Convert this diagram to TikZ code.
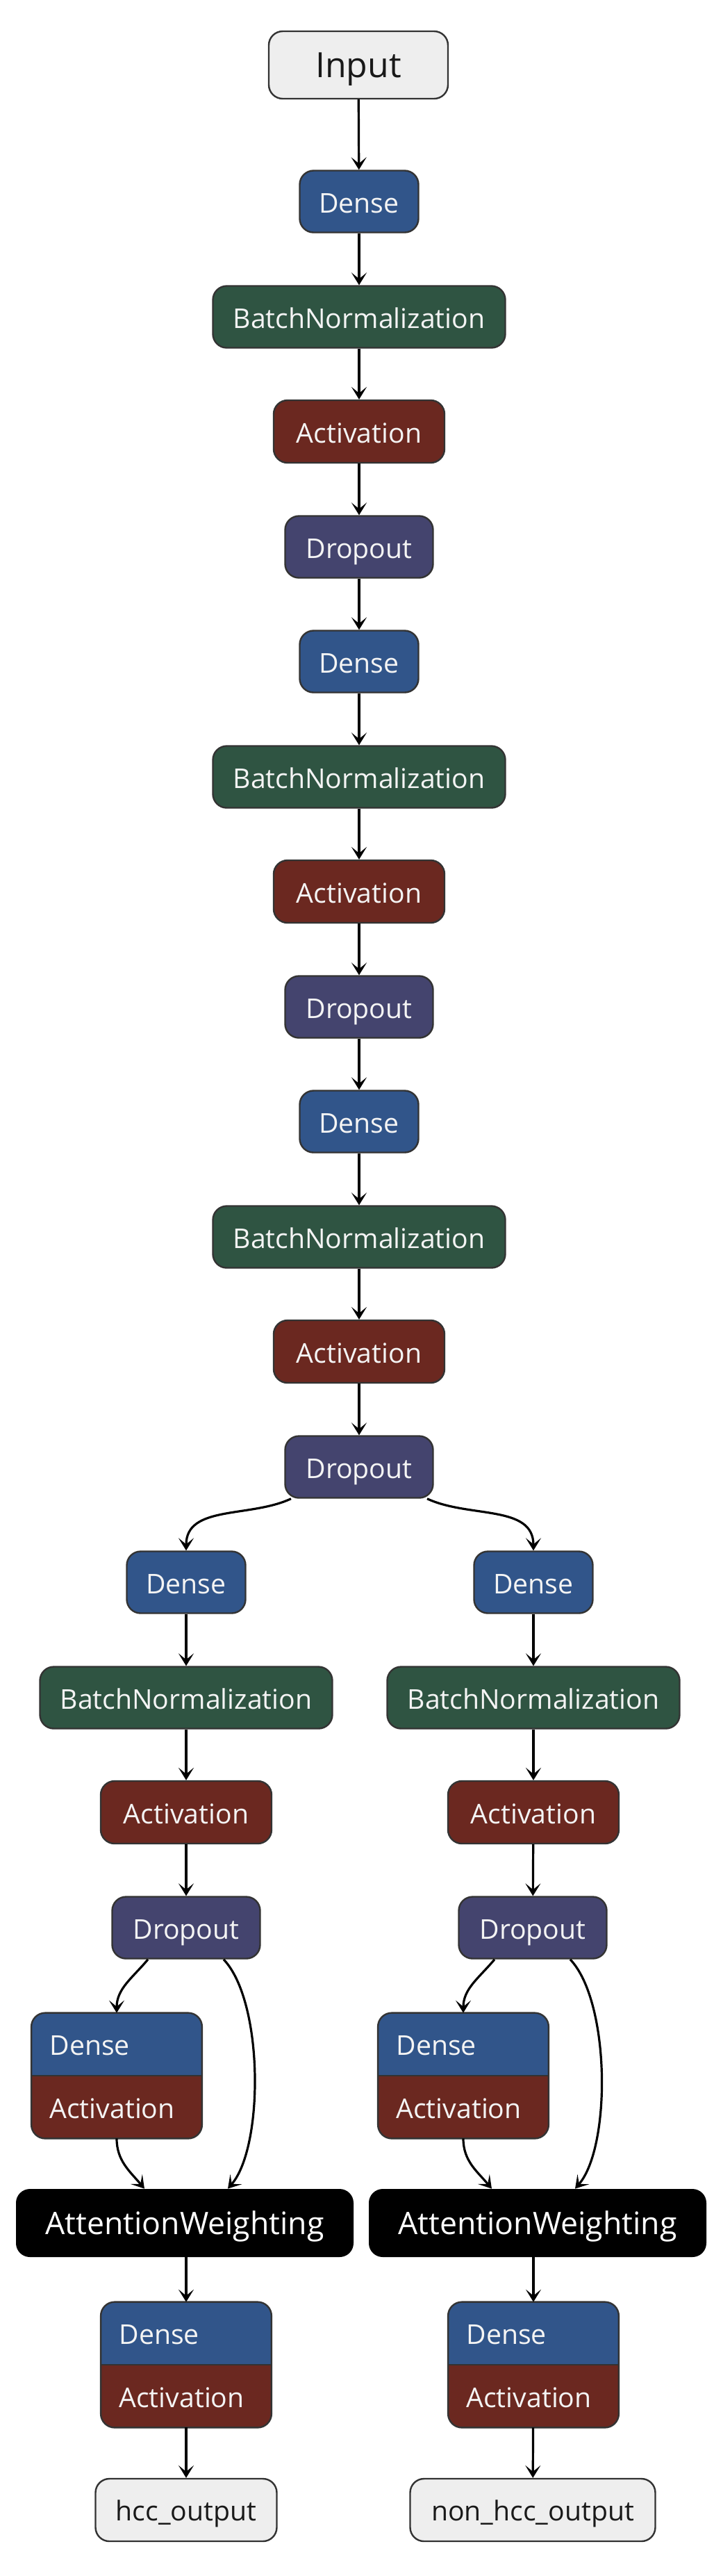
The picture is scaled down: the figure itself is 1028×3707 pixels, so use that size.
\documentclass[tikz,border=0pt]{standalone}
\usepackage{fontspec}
\setmainfont{Open Sans}
\usetikzlibrary{positioning, arrows.meta}
\definecolor{densecol}{HTML}{31558A}
\definecolor{bncol}{HTML}{2F5442}
\definecolor{actcol}{HTML}{6B2820}
\definecolor{dropcol}{HTML}{44446E}
\definecolor{iocol}{HTML}{EEEEEE}
\definecolor{edgecol}{HTML}{333333}
\definecolor{txtcol}{HTML}{F4F4F4}
\tikzset{
    % Layer styles
    layerbox/.style={rectangle, draw=edgecol, line width=1.2pt, rounded corners=10pt,
                     minimum height=44.5pt, inner sep=2pt, text=txtcol,
                     font=\fontsize{19.6pt}{24pt}\selectfont, text height=16pt, text depth=0pt},
    densebox/.style={layerbox, fill=densecol, minimum width=85.5pt},
    bnbox/.style={layerbox, fill=bncol, minimum width=210.5pt},
    actbox/.style={layerbox, fill=actcol, minimum width=123pt, minimum height=45pt},
    dropbox/.style={layerbox, fill=dropcol, minimum width=106.5pt},
    iobox/.style={layerbox, fill=iocol, text=black!90, text height=15pt, minimum height=45pt},
    attnbox/.style={rectangle, fill=black, rounded corners=10pt, minimum width=243pt,
                    minimum height=49pt, text=white, font=\fontsize{22.3pt}{27pt}\selectfont,
                    text height=16pt, text depth=0pt},
    combobox/.style={rectangle, rounded corners=10pt, fill=actcol, minimum width=122.5pt,
                     minimum height=90pt, inner sep=0pt},
    lbl/.style={inner sep=0pt, text=txtcol, font=\fontsize{19.6pt}{24pt}\selectfont,
                text height=16pt, text depth=0pt},
    % Arrow styles
    arrow/.style={-{Stealth[length=9pt, width=11pt, inset=4.5pt]}, line width=1.6pt},
}

\begin{document}
\begin{tikzpicture}[x=0.5pt, y=0.5pt]
    \useasboundingbox (0,0) rectangle (1028,-3707);

    % Input
    \node[iobox, minimum width=129pt, minimum height=48.5pt,
          font=\fontsize{25pt}{30pt}\selectfont, text height=18pt] (inp) at (516,-93.5) {Input};

    % Shared trunk
    \node[densebox] (d1) at (517,-290) {Dense};
    \node[bnbox] (bn1) at (517,-456) {BatchNormalization};
    \node[actbox] (act1) at (517,-621) {Activation};
    \node[dropbox] (drop1) at (517,-787) {Dropout};
    \node[densebox] (d2) at (517,-952) {Dense};
    \node[bnbox] (bn2) at (517,-1118) {BatchNormalization};
    \node[actbox] (act2) at (517,-1283) {Activation};
    \node[dropbox] (drop2) at (517,-1449) {Dropout};
    \node[densebox] (d3) at (517,-1614) {Dense};
    \node[bnbox] (bn3) at (517,-1780) {BatchNormalization};
    \node[actbox] (act3) at (517,-1945) {Activation};
    \node[dropbox] (drop3) at (517,-2111) {Dropout};

    % Branches
    \node[densebox] (dL) at (268,-2277) {Dense};
    \node[bnbox] (bnL) at (268,-2443) {BatchNormalization};
    \node[actbox] (actL) at (268,-2608) {Activation};
    \node[dropbox] (dropL) at (268,-2774) {Dropout};
    \node[densebox] (dR) at (768,-2277) {Dense};
    \node[bnbox] (bnR) at (768,-2443) {BatchNormalization};
    \node[actbox] (actR) at (768,-2608) {Activation};
    \node[dropbox] (dropR) at (767,-2774) {Dropout};

    % Dense + Activation blocks
    \foreach \nm/\cx/\cy in {daL/168/2987, daR/667/2987, da2L/268/3403, da2R/768/3403} {
        \node[combobox] (\nm) at (\cx,-\cy) {};
        \begin{scope}
            \clip[rounded corners=10pt] (\nm.north west) rectangle (\nm.south east);
            \fill[densecol] (\nm.north west) rectangle (\nm.east);
        \end{scope}
        \draw[edgecol, line width=1.2pt] (\nm.west) -- (\nm.east);
        \draw[edgecol, line width=1.2pt, rounded corners=10pt] (\nm.north west) rectangle (\nm.south east);
        \node[lbl, anchor=west] (\nm-top) at ([xshift=13pt, yshift=-22.5pt]\nm.north west) {Dense};
        \node[lbl, anchor=west] (\nm-bot) at ([xshift=13pt, yshift=22.5pt]\nm.south west) {Activation};
    }

    % Attention
    \node[attnbox] (awL) at (266,-3199) {AttentionWeighting};
    \node[attnbox] (awR) at (774,-3199) {AttentionWeighting};

    % Outputs
    \node[iobox, minimum width=130.5pt] (outL) at (268,-3612) {hcc\_output};
    \node[iobox, minimum width=176.5pt] (outR) at (767,-3612) {non\_hcc\_output};

    % Arrows
    \foreach \a/\b in {inp/d1, d1/bn1, bn1/act1, act1/drop1, drop1/d2, d2/bn2, bn2/act2,
                       act2/drop2, drop2/d3, d3/bn3, bn3/act3, act3/drop3,
                       dL/bnL, bnL/actL, actL/dropL, dR/bnR, bnR/actR, actR/dropR,
                       da2L/outL, da2R/outR} {
        \draw[arrow] (\a) -- (\b);
    }
    \draw[arrow] (drop3.205) to[out=205, in=90] (dL.north);
    \draw[arrow] (drop3.-25) to[out=-25, in=90] (dR.north);
    \foreach \s/\ea/\eb in {L/-29pt/31pt, R/-33pt/27pt} {
        \draw[arrow] ([xshift=-27.5pt]drop\s.south) to[out=-130, in=90] (da\s.north);
        \draw[arrow] (da\s.south) to[out=-90, in=130] ([xshift=\ea]aw\s.north);
        \draw[arrow] ([xshift=27pt]drop\s.south) .. controls +(58,-61) and +(52,60) .. ([xshift=\eb]aw\s.north);
        \draw[arrow] (da2\s.north |- aw\s.south) -- (da2\s.north);
    }
\end{tikzpicture}
\end{document}
